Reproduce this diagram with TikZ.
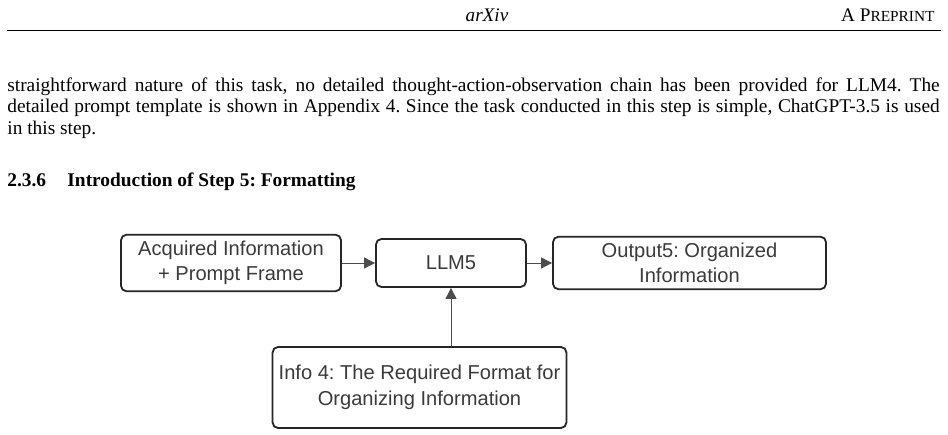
\documentclass[tikz,border=0pt]{standalone}
\usepackage{fontspec}
\setmainfont{Liberation Serif}
\newfontfamily\diagfont{Liberation Sans}
\usetikzlibrary{arrows.meta}
\definecolor{txt}{HTML}{3A3A3A}
\begin{document}
\frenchspacing
\begin{tikzpicture}[x=0.547pt,y=-0.547pt,
  box/.style={draw=black!85,line width=1pt,rounded corners=3pt,align=center,font=\diagfont\fontsize{11}{14}\selectfont,text=txt},
  arr/.style={draw=black!70,line width=0.5pt,-{Triangle[length=6pt,width=6pt]}}]
\useasboundingbox (0,0) rectangle (948,435);
\node[font=\itshape\fontsize{10.5}{12}\selectfont] (hd) at (487,15) {arXiv};
\node[anchor=east,font=\fontsize{10.5}{12}\selectfont] (pp) at (941,15) {A P{\fontsize{8.4}{10}\selectfont REPRINT}};
\draw[line width=0.4pt] (7,30) coordinate (r1) -- (941,30) coordinate (r2);
\node[anchor=north west,inner sep=0pt,text width=510pt,font=\fontsize{10.6}{12}\selectfont,align=justify] (par) at (7,77)
{straightforward nature of this task, no detailed thought-action-observation chain has been provided for LLM4. The\linebreak
detailed prompt template is shown in Appendix 4. Since the task conducted in this step is simple, ChatGPT-3.5 is used\linebreak
in this step.};
\node[anchor=west,inner sep=0pt,font=\bfseries\fontsize{10.6}{12}\selectfont] (sec) at (7,182) {2.3.6\hspace{1.1em}Introduction of Step 5: Formatting};
\node[box,minimum width=220*0.547pt,minimum height=48*0.547pt] (a) at (231,263) {Acquired Information\\+ Prompt Frame};
\node[box,minimum width=150*0.547pt,minimum height=48*0.547pt] (l) at (451,263) {LLM5};
\node[box,minimum width=273*0.547pt,minimum height=48*0.547pt] (o) at (689.5,263) {Output5: Organized\\Information};
\node[box,minimum width=287*0.547pt,minimum height=81*0.547pt] (i) at (419.5,387.5) {Info 4: The Required Format for\\Organizing Information};
\draw[arr] (a) -- (l);
\draw[arr] (l) -- (o);
\draw[arr] (i.north -| l) -- (l.south);
\end{tikzpicture}
\end{document}
